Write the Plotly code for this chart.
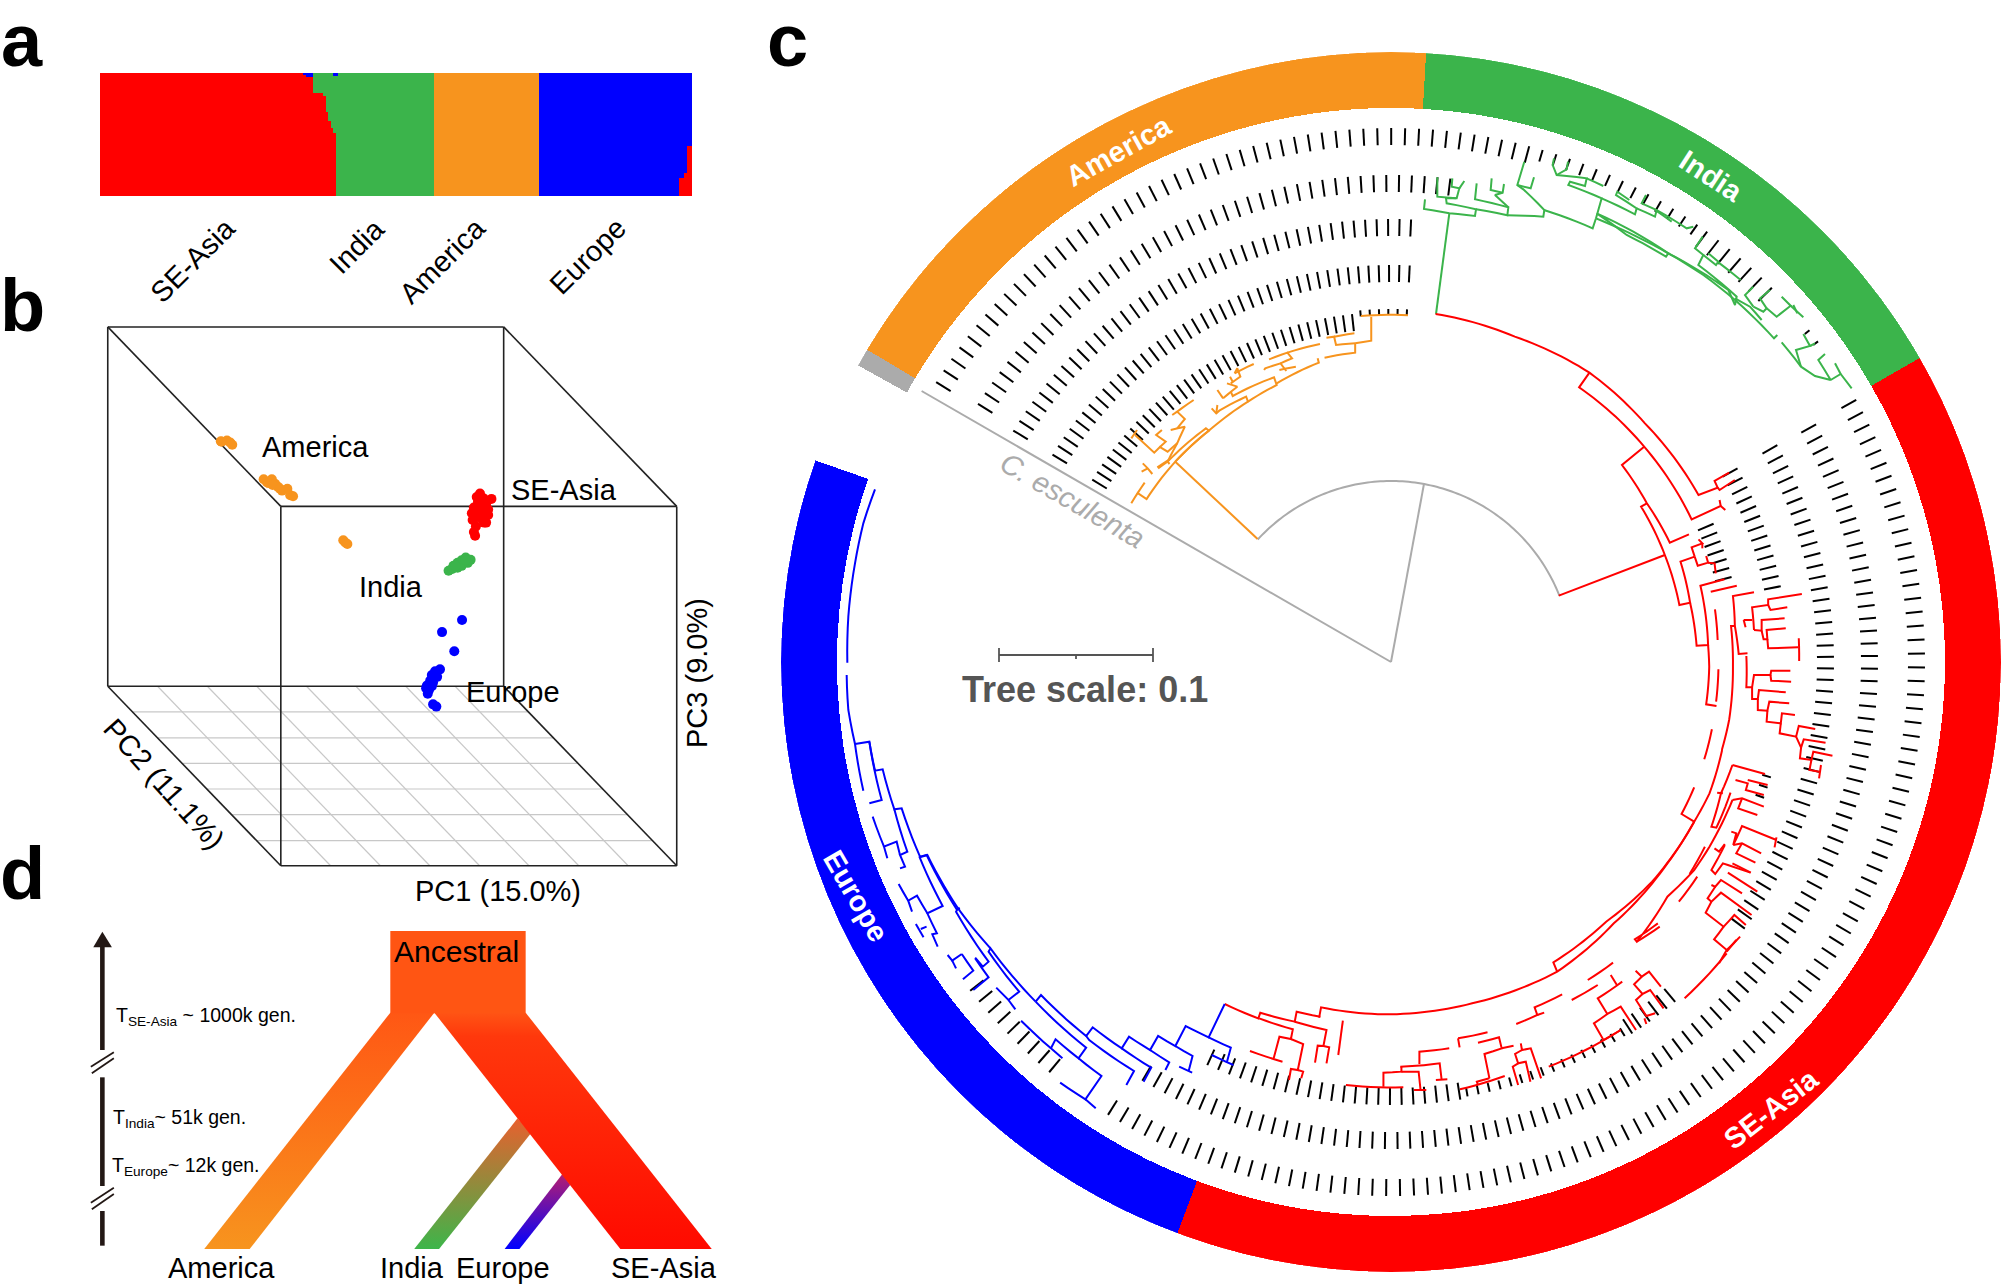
import math
import plotly.graph_objects as go

W, H = 2001, 1287
ORANGE, GREEN, RED, BLUE = "#F7941E", "#3BB44B", "#FF0000", "#0000FF"
GREY = "#ABABAB"
FONT = "Liberation Sans"

# ---------- panel a: ancestry proportions per sample ----------
red_q = [1.0]*81 + [0.98, 0.97, 0.97, 0.97, 0.84, 0.84, 0.84, 0.84, 0.815, 0.68, 0.61, 0.55, 0.515] + [0.0]*137 + [0.15, 0.15, 0.19, 0.41, 0.41]
green_q = [0.0]*85 + [0.16, 0.16, 0.16, 0.16, 0.185, 0.32, 0.39, 0.45, 0.46] + [0.975] + [1.0]*38 + [0.0]*103
orange_q = [0.0]*133 + [1.0]*42 + [0.0]*61
blue_q = [0.0]*81 + [0.02, 0.03, 0.03, 0.03] + [0.0]*8 + [0.025, 0.025] + [0.0]*80 + [1.0]*56 + [0.85, 0.85, 0.81, 0.59, 0.59]
sample_ids = list(range(236))
a_labels = ["SE-Asia", "India", "America", "Europe"]

# ---------- panel b: PCA cloud (oblique projection units) ----------
america_x = [345, 360, 368, 373, 347, 450, 458, 470, 478, 485, 495, 508, 515, 522, 462, 472, 490, 645, 650, 655]
america_y = [349, 347, 352, 358, 350, 450, 458, 450, 462, 470, 480, 475, 492, 495, 460, 465, 475, 612, 618, 622]
seasia_x = [980, 972, 988, 1008, 975, 995, 965, 1000, 960, 985, 975, 1000, 962, 990, 970, 965, 968, 975, 985, 995, 965, 978, 990]
seasia_y = [488, 497, 500, 502, 510, 515, 525, 530, 540, 540, 550, 545, 558, 565, 575, 590, 600, 530, 555, 565, 545, 520, 525]
india_x = [903, 915, 925, 935, 945, 957, 950, 935, 925, 912, 940, 930, 945, 920]
india_y = [693, 680, 672, 665, 658, 664, 672, 680, 685, 688, 670, 678, 665, 680]
europe_x = [936, 887, 917, 882, 870, 862, 875, 858, 865, 850, 848, 855, 852, 862, 865, 873]
europe_y = [824, 856, 907, 955, 960, 970, 975, 985, 990, 998, 1005, 1010, 1020, 1000, 1048, 1054]
cube_edges = [[(68, 45), (1038, 45)], [(68, 45), (68, 1000)], [(1038, 45), (1038, 1000)], [(68, 1000), (1038, 1000)],
              [(492, 522), (1462, 522)], [(492, 522), (492, 1477)], [(1462, 522), (1462, 1477)], [(492, 1477), (1462, 1477)],
              [(68, 45), (492, 522)], [(1038, 45), (1462, 522)], [(68, 1000), (492, 1477)], [(1038, 1000), (1462, 1477)]]
floor_rows = [1068, 1137, 1205, 1273, 1341, 1410]
floor_cols = [190, 312, 433, 555, 676, 798, 919]

# ---------- panel c: ring sectors (deg clockwise from north) ----------
ring_names = ["C. esculenta", "America", "India", "SE-Asia", "Europe"]
ring_start = [-60.9, -59.2, 3.3, 60.1, 200.5]
ring_end = [-59.2, 3.3, 60.1, 200.5, 289.3]
ring_colors = [GREY, ORANGE, GREEN, RED, BLUE]
# leaf tick bands: first angle, last angle, outer radius, inner radius
band_first = [-58.4, 16.5, 36.3, 51.6, 60.6, 219.8, -58.0, 60.8, -58.5, 60.7, 140.1, 148.0, 171.0, -58.5, 60.8, 106.9, -58.6, -5.0, 66.8]
band_last = [15.0, 35.0, 45.5, 53.1, 212.0, 232.0, 7.0, 210.7, 2.6, 127.0, 147.0, 170.0, 204.5, 2.7, 79.0, 110.0, -6.4, 2.6, 76.0]
band_outer = [534, 534, 534, 534, 534, 534, 487, 487, 443, 443, 443, 441, 443, 397, 397, 397, 350, 353, 351]
band_inner = [517, 522, 515, 528, 517, 517, 470, 470, 426, 426, 426, 432, 426, 380, 380, 388, 333, 347, 334]
LEAF_STEP = 1.5

# tree branches, read from enlarged views: (left, top, x scale, y scale)
VIEW_ORANGE = (850, 40, 2.613, 3)
VIEW_GREEN = (1420, 130, 3, 3)
VIEW_RED_E = (1400, 300, 2.613, 3)
VIEW_RED_S = (1300, 750, 2.613, 3)
VIEW_SW = (780, 750, 2.613, 3)
VIEW_W = (800, 450, 3, 3)

orange_branches = [
    [(1065, 1497), (850, 1265)], [(735, 1390), (770, 1328)],
    [(750, 1358), (775, 1377), (850, 1265), (938, 1172), (930, 1165), (830, 1265), (835, 1272)],
    [(803, 1282), (835, 1258)], [(850, 1265), (945, 1165), (1040, 1085), (1035, 1070), (965, 1112), (957, 1120), (945, 1105)],
    [(960, 1095), (957, 1120)], [(1040, 1085), (1115, 1035), (1108, 1012), (1000, 1068), (995, 1055)],
    [(1115, 1030), (1225, 968), (1222, 955)], [(1140, 993), (1125, 970), (1085, 985), (1082, 990)],
    [(1122, 990), (1165, 980)], [(1125, 970), (1155, 955), (1143, 938), (1095, 958)], [(1143, 938), (1228, 912)],
    [(1320, 910), (1320, 938), (1240, 953)], [(1320, 910), (1270, 915), (1265, 890), (1245, 893)], [(1265, 890), (1318, 880)],
    [(1362, 830), (1362, 902), (1320, 910)], [(1335, 828), (1458, 826)],
    [(1005, 1000), (1055, 972)], [(1005, 1000), (1012, 985), (1020, 1010), (995, 1030)], [(993, 1010), (1000, 1025)],
    [(985, 1030), (1012, 1040), (975, 1075)], [(960, 1050), (975, 1075)],
    [(898, 1080), (855, 1115), (875, 1137), (855, 1165)], [(842, 1125), (855, 1115)],
    [(838, 1170), (875, 1160), (855, 1210), (830, 1265), (805, 1285)],
    [(735, 1195), (750, 1170)], [(745, 1185), (795, 1238), (825, 1205), (800, 1185), (815, 1170)],
    [(808, 1220), (830, 1235), (855, 1210)], [(765, 1270), (778, 1285), (790, 1302)], [(778, 1285), (762, 1295)],
]
green_branches = [
    [(48, 552), (88, 250)],
    [(15, 208), (12, 237), (88, 250), (165, 258), (168, 238), (80, 220), (78, 205), (110, 205), (118, 175), (95, 170), (97, 145)],
    [(52, 142), (52, 200), (108, 205)], [(118, 175), (133, 153)],
    [(168, 238), (262, 256), (265, 232), (165, 208), (170, 160)],
    [(265, 232), (225, 195), (248, 188), (252, 162)], [(248, 188), (212, 180), (215, 145)],
    [(262, 256), (370, 260), (373, 240), (310, 178), (292, 165), (313, 95)], [(292, 165), (332, 175), (342, 142)],
    [(372, 240), (518, 295), (528, 265), (545, 205), (445, 165), (450, 155), (495, 168), (500, 145), (410, 135), (398, 105), (402, 85)],
    [(410, 135), (440, 118), (444, 95)], [(500, 145), (550, 168)],
    [(545, 205), (645, 253), (650, 235), (588, 195), (592, 185), (628, 210)],
    [(650, 235), (705, 260), (710, 240), (665, 220), (678, 195)],
    [(710, 240), (800, 295), (820, 290)], [(755, 275), (705, 240)],
    [(528, 265), (650, 320), (745, 370), (925, 480), (945, 525), (950, 500), (835, 405), (850, 375), (825, 355), (848, 320)],
    [(530, 250), (640, 305), (745, 370), (738, 380), (620, 315), (530, 250)],
    [(850, 375), (888, 405), (895, 395), (865, 370)], [(892, 395), (962, 450)],
    [(745, 370), (850, 435), (945, 510), (1062, 625), (1072, 615)],
    [(945, 505), (990, 530), (1025, 570)], [(1000, 530), (975, 495), (1000, 470)],
    [(1000, 530), (1030, 545), (1040, 535), (1020, 505), (1050, 480)],
    [(1040, 535), (1070, 560), (1112, 527), (1085, 500)], [(1112, 527), (1150, 562)], [(1120, 525), (1132, 550)],
    [(1085, 637), (1143, 710), (1185, 738), (1232, 750), (1195, 690), (1215, 672)],
    [(1143, 710), (1128, 660), (1170, 648), (1150, 612)], [(1170, 648), (1185, 640)],
    [(1232, 750), (1262, 732), (1295, 775)], [(1262, 732), (1245, 700)],
]
red_east_branches = [
    [(93, 42), (300, 110), (495, 218), (640, 370), (780, 585), (830, 563), (822, 543), (860, 518)], [(830, 563), (835, 570), (875, 540)],
    [(495, 218), (468, 262), (638, 440), (762, 658), (838, 618), (835, 600)], [(838, 618), (850, 630)],
    [(638, 440), (580, 495), (645, 610), (705, 728), (755, 703)],
    [(645, 610), (630, 620), (692, 765), (730, 915), (758, 908), (733, 785), (770, 770)],
    [(415, 887), (692, 765)],
    [(758, 908), (775, 1037), (805, 1035), (785, 857), (848, 838)],
    [(770, 770), (778, 797), (805, 788), (800, 768)], [(770, 770), (762, 742), (790, 730), (780, 718)], [(790, 730), (790, 745)],
    [(805, 788), (822, 790), (825, 820)], [(812, 875), (880, 857)], [(823, 928), (830, 1020)],
    [(805, 1035), (808, 1100), (800, 1213), (827, 1218)], [(832, 1108), (826, 1205)], [(815, 1288), (795, 1378)],
    [(875, 978), (865, 978), (870, 1100), (860, 1260), (841, 1350)],
    [(875, 978), (870, 888), (925, 877)], [(875, 978), (885, 1062), (908, 1060)],
    [(925, 990), (920, 922), (962, 915), (962, 898), (1050, 882)], [(962, 915), (968, 930), (1012, 922)],
    [(898, 960), (920, 960)], [(903, 982), (898, 960)],
    [(925, 990), (945, 992), (945, 960), (1005, 955)], [(945, 992), (950, 1018), (960, 1018), (958, 990), (1008, 985)],
    [(960, 1018), (962, 1045), (1040, 1042)], [(1042, 1015), (1043, 1083)],
    [(905, 1068), (905, 1162), (920, 1162), (925, 1125), (968, 1125), (970, 1112), (1020, 1112)], [(968, 1125), (970, 1142), (1022, 1145)],
    [(920, 1162), (920, 1197), (935, 1197), (938, 1170), (1008, 1177)], [(935, 1197), (935, 1230), (960, 1232), (965, 1205), (1017, 1210)],
    [(960, 1232), (958, 1265), (995, 1270), (998, 1240), (1032, 1245)],
    [(995, 1270), (992, 1300), (1035, 1310), (1042, 1278), (1085, 1287)],
    [(1035, 1310), (1048, 1343), (1055, 1318), (1112, 1328)], [(1048, 1343), (1045, 1375), (1075, 1380), (1080, 1355), (1130, 1367)],
    [(1075, 1380), (1070, 1410), (1095, 1415)], [(1100, 1395), (1095, 1435)],
]
red_south_branches = [
    [(1103, 0), (1070, 130), (1030, 215), (920, 395), (800, 515), (662, 637), (672, 665)],
    [(1030, 215), (960, 340), (820, 520), (672, 665), (450, 760), (220, 793), (55, 772), (50, 803)],
    [(1030, 215), (997, 192), (1030, 112)],
    [(1130, 45), (1215, 72)], [(1130, 45), (1100, 130), (1075, 230), (1088, 233), (1125, 128)], [(1090, 128), (1105, 130)],
    [(1130, 150), (1070, 290), (1030, 360), (960, 440), (880, 575), (875, 568), (935, 520)], [(880, 575), (940, 530)],
    [(1018, 372), (1058, 290)], [(990, 455), (1038, 380)],
    [(1138, 90), (1170, 100), (1165, 120), (1212, 135)], [(1170, 90), (1222, 105)],
    [(1130, 150), (1155, 145), (1212, 170)], [(1155, 145), (1145, 175), (1195, 195)],
    [(1127, 245), (1140, 250), (1132, 285), (1155, 228), (1245, 270)], [(1245, 262), (1240, 292)],
    [(1132, 285), (1155, 280), (1205, 310)], [(1155, 280), (1140, 310), (1190, 338)],
    [(1083, 295), (1095, 305), (1110, 282)], [(1110, 285), (1075, 360), (1085, 372), (1105, 340), (1118, 345), (1177, 368)],
    [(1130, 340), (1178, 368)], [(1118, 368), (1195, 425)],
    [(1075, 405), (1085, 410), (1100, 390), (1155, 430)], [(1085, 410), (1065, 445), (1075, 455), (1100, 428), (1180, 495)],
    [(1075, 455), (1060, 488), (1107, 530), (1135, 495), (1165, 525)],
    [(1107, 530), (1082, 568), (1115, 600), (1150, 560)], [(1115, 600), (1095, 640)], [(1140, 570), (1115, 605)],
    [(1115, 610), (1005, 745)],
    [(818, 638), (752, 690)], [(812, 675), (828, 705)], [(842, 695), (778, 745), (803, 792), (838, 770), (878, 840)],
    [(803, 792), (768, 820), (793, 870), (838, 840)], [(838, 840), (650, 950)], [(778, 705), (710, 750)],
    [(877, 662), (893, 680), (912, 665), (943, 710)], [(893, 680), (873, 703), (895, 732), (915, 720), (950, 775)],
    [(895, 732), (878, 750), (905, 798), (928, 790)], [(900, 805), (905, 822)],
    [(685, 733), (613, 772), (620, 795), (565, 822)], [(620, 795), (638, 788)],
    [(413, 865), (490, 847)], [(413, 865), (417, 892)],
    [(465, 878), (520, 862), (527, 895), (482, 912), (495, 985)], [(527, 895), (558, 887)],
    [(495, 985), (462, 995), (465, 1005)], [(418, 1018), (535, 978)],
    [(577, 880), (580, 900), (603, 895), (630, 985)], [(580, 900), (562, 912), (570, 940), (590, 935), (602, 995)],
    [(570, 940), (556, 950), (570, 1005)],
    [(390, 895), (312, 905), (312, 942)], [(262, 950), (365, 940), (370, 988)], [(355, 990), (385, 988)],
    [(265, 950), (265, 965), (218, 968), (218, 1010)], [(265, 965), (310, 965), (315, 1020)],
    [(120, 1005), (270, 1012)], [(298, 1020), (330, 1020)], [(112, 812), (100, 915)],
]
red_sw_branches = [
    [(1162, 762), (1250, 805), (1255, 788), (1345, 815), (1350, 785), (1412, 800)],
    [(1252, 805), (1340, 838), (1335, 867), (1305, 860), (1290, 925)],
    [(1335, 867), (1367, 882), (1353, 960), (1335, 957), (1330, 990)], [(1353, 960), (1367, 965), (1362, 985)],
    [(1228, 903), (1313, 935)], [(1345, 815), (1428, 840), (1420, 888), (1405, 887), (1398, 938)], [(1420, 888), (1435, 892), (1428, 940)],
]
blue_sw_branches = [
    [(1162, 762), (1120, 862), (1060, 828), (1033, 888), (988, 858), (967, 900), (912, 860), (893, 895), (817, 832), (800, 858), (682, 735), (668, 755)],
    [(1120, 862), (1178, 893), (1168, 935)], [(1128, 915), (1185, 945)],
    [(1033, 888), (1078, 918), (1068, 962)], [(1043, 950), (1077, 968)],
    [(967, 900), (1017, 937), (1007, 960)], [(893, 895), (970, 953), (950, 995)],
    [(800, 858), (808, 870), (925, 963), (905, 1005)],
    [(668, 755), (800, 893), (780, 925), (720, 868), (708, 895), (738, 925)],
    [(780, 925), (840, 978), (798, 1048), (732, 998)], [(798, 1048), (825, 1075)], [(630, 812), (708, 895)],
    [(668, 755), (550, 595), (545, 605), (625, 725), (597, 750), (565, 713)], [(597, 750), (615, 778)],
    [(550, 595), (465, 475), (460, 485), (545, 635), (530, 650), (510, 623)],
    [(475, 612), (505, 662), (478, 688)], [(510, 625), (545, 682), (505, 720)], [(475, 612), (450, 632), (438, 615)], [(450, 632), (460, 655)],
    [(465, 475), (385, 315), (365, 322), (425, 468), (385, 490), (410, 550), (398, 553), (412, 590)],
    [(385, 490), (358, 437), (335, 452), (345, 485)], [(335, 452), (310, 402)],
    [(355, 522), (375, 562)], [(368, 537), (383, 530)],
]
blue_w_branches = [
    [(225, 118), (190, 220), (165, 340), (145, 500), (142, 638)],
    [(140, 675), (145, 780), (165, 882), (190, 1022)],
    [(165, 882), (208, 875), (245, 1050), (208, 1060)],
    [(208, 875), (225, 962), (248, 958), (283, 1078), (305, 1075), (360, 1220), (380, 1215), (470, 1378), (480, 1375)],
    [(283, 1078), (322, 1205), (300, 1215), (315, 1250), (300, 1255)],
    [(300, 1215), (290, 1175), (252, 1190), (262, 1225)], [(252, 1190), (218, 1100)],
]
# root part of the tree: angle (deg), radius
root_paths = [[(-60.0, 0), (-60.0, 542)], [(10.5, 0), (10.5, 181)], [(-47.4, 181), (68.6, 181)]]

# ---------- panel d: demographic model ----------
ancestral_x, ancestral_y = [816, 1099, 1099, 816], [243, 243, 490, 490]
america_branch_x, america_branch_y = [816, 908, 522, 427], [488, 488, 1197, 1197]
seasia_branch_x, seasia_branch_y = [908, 1099, 1488, 1297], [488, 488, 1197, 1197]
india_branch_x, india_branch_y = [1082, 1110, 918, 866], [805, 850, 1197, 1197]
europe_branch_x, europe_branch_y = [1177, 1192, 1086, 1055], [970, 1005, 1197, 1197]
time_segments = [[(214, 600), (214, 290)], [(214, 682), (214, 1008)], [(214, 1083), (214, 1187)]]
time_breaks = [[(190, 650), (238, 607)], [(192, 670), (238, 625)], [(190, 1058), (238, 1013)], [(192, 1078), (238, 1032)]]
arrow_x, arrow_y = [195, 234, 214], [292, 292, 245]
d_labels = ["America", "India", "Europe", "SE-Asia"]
d_label_x = [464, 862, 1052, 1389]
time_labels = ["T<sub>SE-Asia</sub> ~ 1000k gen.", "T<sub>India</sub>~ 51k gen.", "T<sub>Europe</sub>~ 12k gen."]
time_label_x, time_label_y = [238, 233, 231], [500, 806, 948]
scale_bar = [[(999, 655), (1153, 655)], [(999, 648), (999, 662)], [(1153, 648), (1153, 662)], [(1076, 655), (1076, 659)]]

ROOT = (1391, 662)


def path_polar(path):
    th, r = [], []
    for (t0, r0), (t1, r1) in zip(path[:-1], path[1:]):
        d = (t1 - t0 + 180) % 360 - 180
        n = max(1, int(abs(d)))
        for i in range(n):
            th.append(t0 + d*i/n)
            r.append(r0 + (r1-r0)*i/n)
    th.append(path[-1][0])
    r.append(path[-1][1])
    return th, r


def from_view(path, view):
    left, top, sx, sy = view
    out = []
    for px_, py_ in path:
        dx, dy = left + px_/sx - ROOT[0], top + py_/sy - ROOT[1]
        out.append((math.degrees(math.atan2(dx, -dy)), math.hypot(dx, dy)))
    return out


def tree_trace(groups, color, width=2.0):
    th, r = [], []
    for paths, view in groups:
        for p in paths:
            a, b = path_polar(from_view(p, view) if view else p)
            th += a + [None]
            r += b + [None]
    return go.Scatterpolar(theta=th, r=r, mode="lines", line=dict(color=color, width=width),
                           hoverinfo="skip", showlegend=False)


def px(x, y):
    return x/W, 1 - y/H


fig = go.Figure()

# panel a
for q, c in [(red_q, RED), (green_q, GREEN), (orange_q, ORANGE), (blue_q, BLUE)]:
    fig.add_trace(go.Bar(x=sample_ids, y=q, marker=dict(color=c, line=dict(width=0)), width=1.0,
                         xaxis="x", yaxis="y", showlegend=False, hoverinfo="skip"))


def seg_trace(segs, color, width, ax):
    x, y = [], []
    for s in segs:
        x += [p[0] for p in s] + [None]
        y += [p[1] for p in s] + [None]
    return go.Scatter(x=x, y=y, mode="lines", line=dict(color=color, width=width), xaxis="x"+ax, yaxis="y"+ax,
                      showlegend=False, hoverinfo="skip")


# panel b
floor = [[(68 + (y-1000)*424/477, y), (1038 + (y-1000)*424/477, y)] for y in floor_rows]
floor += [[(x, 1000), (x+424, 1477)] for x in floor_cols]
fig.add_trace(seg_trace(floor, "#C8C8C8", 1.2, "2"))
fig.add_trace(seg_trace(cube_edges, "#222222", 1.6, "2"))
for xs, ys, c in [(america_x, america_y, ORANGE), (seasia_x, seasia_y, RED), (india_x, india_y, GREEN), (europe_x, europe_y, BLUE)]:
    fig.add_trace(go.Scatter(x=xs, y=ys, mode="markers", marker=dict(color=c, size=10, line=dict(width=0)),
                             xaxis="x2", yaxis="y2", showlegend=False, hoverinfo="skip"))

# panel c
centers = [(a+b)/2 for a, b in zip(ring_start, ring_end)]
spans = [b-a for a, b in zip(ring_start, ring_end)]
fig.add_trace(go.Barpolar(theta=centers, width=spans, r=[56]*5, base=[554]*5,
                          marker=dict(color=ring_colors, line=dict(width=0)), showlegend=False, hoverinfo="skip"))
tick_t, tick_r = [], []
for a, b, ro, ri in zip(band_first, band_last, band_outer, band_inner):
    n = int(round((b-a)/LEAF_STEP))
    for i in range(n+1):
        t = a + i*(b-a)/max(n, 1)
        tick_t += [t, t, None]
        tick_r += [ri, ro, None]
fig.add_trace(go.Scatterpolar(theta=tick_t, r=tick_r, mode="lines", line=dict(color="black", width=2.0),
                              showlegend=False, hoverinfo="skip"))
fig.add_trace(tree_trace([(root_paths, None)], GREY, 2.0))
fig.add_trace(tree_trace([(orange_branches, VIEW_ORANGE)], ORANGE))
fig.add_trace(tree_trace([(green_branches, VIEW_GREEN)], GREEN))
fig.add_trace(tree_trace([(red_east_branches, VIEW_RED_E), (red_south_branches, VIEW_RED_S), (red_sw_branches, VIEW_SW)], RED))
fig.add_trace(tree_trace([(blue_sw_branches, VIEW_SW), (blue_w_branches, VIEW_W)], BLUE))
sb_t, sb_r = [], []
for p in scale_bar:
    q = from_view(p, (0, 0, 1, 1))
    sb_t += [q[0][0], q[1][0], None]
    sb_r += [q[0][1], q[1][1], None]
fig.add_trace(go.Scatterpolar(theta=sb_t, r=sb_r, mode="lines", line=dict(color="#555555", width=1.8),
                              showlegend=False, hoverinfo="skip"))


# panel d
def grad(xs, ys, stops, start, stop):
    return go.Scatter(x=xs + xs[:1], y=ys + ys[:1], mode="lines", line=dict(width=0), fill="toself",
                      fillgradient=dict(type="vertical", colorscale=stops, start=start, stop=stop),
                      xaxis="x3", yaxis="y3", showlegend=False, hoverinfo="skip")


fig.add_trace(grad(india_branch_x, india_branch_y, [[0, "#E8602E"], [1, "#3DB54A"]], 805, 1197))
fig.add_trace(grad(europe_branch_x, europe_branch_y, [[0, "#B81E6E"], [1, "#0000FF"]], 970, 1197))
fig.add_trace(grad(america_branch_x, america_branch_y, [[0, "#FF5714"], [1, "#F7941E"]], 488, 1197))
fig.add_trace(grad(seasia_branch_x, seasia_branch_y, [[0, "#FF5414"], [0.1, "#FF380C"], [1, "#FF0A00"]], 488, 1197))
fig.add_trace(grad(ancestral_x, ancestral_y, [[0, "#FF5513"], [1, "#FF5513"]], 243, 490))
fig.add_trace(seg_trace(time_segments, "#231815", 4.6, "3"))
fig.add_trace(seg_trace(time_breaks, "#231815", 1.8, "3"))
fig.add_trace(go.Scatter(x=arrow_x + arrow_x[:1], y=arrow_y + arrow_y[:1], mode="lines", line=dict(width=0), fill="toself",
                         fillcolor="#231815", xaxis="x3", yaxis="y3", showlegend=False, hoverinfo="skip"))

ann = []


def label(text, x, y, size=29, color="black", angle=0, bold=False, italic=False, anchor="center"):
    if bold:
        text = "<b>" + text + "</b>"
    if italic:
        text = "<i>" + text + "</i>"
    xx, yy = px(x, y)
    ann.append(dict(text=text, x=xx, y=yy, xref="paper", yref="paper", showarrow=False, textangle=angle,
                    xanchor=anchor, yanchor="middle", font=dict(family=FONT, size=size, color=color)))


def label_in(text, x, y, ax, size=29, anchor="center", angle=0):
    ann.append(dict(text=text, x=x, y=y, xref="x"+ax, yref="y"+ax, showarrow=False, textangle=angle,
                    xanchor=anchor, yanchor="middle", font=dict(family=FONT, size=size, color="black")))


for t, (x, y) in zip("abcd", [(22, 40), (22, 306), (787, 40), (22, 874)]):
    label(t, x, y, size=74, bold=True)
for t, x, y in zip(a_labels, [193, 357, 442, 588], [260, 246, 261, 256]):
    label(t, x, y, angle=-45)
for t, x, y in [("America", 578, 365), ("SE-Asia", 1185, 478), ("India", 762, 737), ("Europe", 1060, 1015)]:
    label_in(t, x, y, "2")
label("PC1 (15.0%)", 498, 891)
label("PC3 (9.0%)", 697, 673, angle=-90)
label("PC2 (11.1%)", 164, 784, angle=48)
label("America", 1118, 151, size=29, color="white", angle=-29, bold=True)
label("India", 1711, 176, size=29, color="white", angle=33, bold=True)
label("SE-Asia", 1771, 1109, size=29, color="white", angle=-38, bold=True)
label("Europe", 856, 896, size=29, color="white", angle=60, bold=True)
label("C. esculenta", 1072, 500, color="#ABABAB", angle=30, italic=True)
label("Tree scale: 0.1", 1085, 689, size=36, color="#555555", bold=True)
for t, x in zip(d_labels, d_label_x):
    label_in(t, x, 1255, "3")
label_in("Ancestral", 955, 303, "3", size=30)
for t, x, y in zip(time_labels, time_label_x, time_label_y):
    label_in(t, x, y, "3", size=19.5, anchor="left")


def dom_x(a, b):
    return [a/W, b/W]


def dom_y(top, bottom):
    return [1-bottom/H, 1-top/H]


hidden = dict(visible=False, fixedrange=True)
fig.update_layout(
    width=W, height=H, autosize=False, margin=dict(l=0, r=0, t=0, b=0), paper_bgcolor="white", plot_bgcolor="rgba(0,0,0,0)",
    barmode="stack", bargap=0, showlegend=False, annotations=ann,
    xaxis=dict(domain=dom_x(100, 692), range=[-0.5, 235.5], **hidden),
    yaxis=dict(domain=dom_y(73, 196), range=[0, 1], **hidden),
    xaxis2=dict(domain=dom_x(80, 720), range=[0, 1568], **hidden),
    yaxis2=dict(domain=dom_y(310, 900), range=[1568, 0], **hidden),
    xaxis3=dict(domain=dom_x(0, 750), range=[0, 1568], **hidden),
    yaxis3=dict(domain=dom_y(850, 1287), range=[1311, 0], **hidden),
    polar=dict(domain=dict(x=dom_x(781, 2001), y=dom_y(52, 1272)), bgcolor="rgba(0,0,0,0)", barmode="overlay",
               radialaxis=dict(visible=False, range=[0, 610]),
               angularaxis=dict(visible=False, rotation=90, direction="clockwise")),
)
fig.write_html("out.html", config={"displayModeBar": False},
               post_script="document.body.style.margin='0';document.documentElement.style.overflow='hidden';")
